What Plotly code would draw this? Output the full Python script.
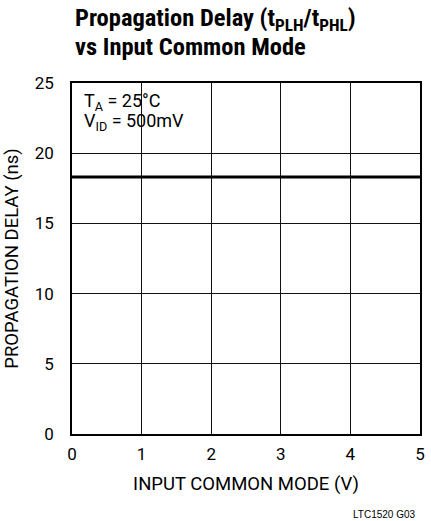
import plotly.graph_objects as go

x_vals = [0, 1, 2, 3, 4, 5]
delay_ns = [18.3, 18.3, 18.3, 18.3, 18.3, 18.3]
x_ticks = [0, 1, 2, 3, 4, 5]
y_ticks = [0, 5, 10, 15, 20, 25]

FONT = "Roboto, Liberation Sans, Arial, sans-serif"
TFONT = "Roboto Condensed, Roboto, Liberation Sans, sans-serif"

fig = go.Figure()
fig.add_trace(go.Scatter(x=x_vals, y=delay_ns, mode="lines",
                         line=dict(color="black", width=3), showlegend=False,
                         hoverinfo="skip"))

fig.update_layout(
    width=431, height=521,
    margin=dict(l=72, r=6, t=83, b=87),
    paper_bgcolor="white", plot_bgcolor="white",
    font=dict(family=FONT, color="black", size=17),
    xaxis=dict(range=[0, 5], tickvals=x_ticks, showgrid=True, gridcolor="#111",
               gridwidth=1, showline=True, linecolor="black", linewidth=1.5,
               mirror=True, ticks="", zeroline=False, ticklabelstandoff=4,
               tickfont=dict(size=17),
               title=dict(text="INPUT COMMON MODE (V)", font=dict(size=18.5), standoff=14)),
    yaxis=dict(range=[0, 25], tickvals=y_ticks, showgrid=True, gridcolor="#111",
               gridwidth=1, showline=True, linecolor="black", linewidth=1.5,
               mirror=True, ticks="", zeroline=False, ticklabelstandoff=13,
               tickfont=dict(size=17),
               title=dict(text="PROPAGATION DELAY (ns)", font=dict(size=18.5), standoff=11)),
)

def py(p):
    return (434 - p) / 351.0

def px(p):
    return (p - 72) / 353.0

fig.add_annotation(xref="paper", yref="paper", x=px(73), y=py(19),
                   xanchor="left", yanchor="middle", align="left", showarrow=False,
                   text="<b>Propagation Delay (t<sub>PLH</sub>/t<sub>PHL</sub>)</b>",
                   font=dict(size=24.5, family=TFONT))
fig.add_annotation(xref="paper", yref="paper", x=px(73), y=py(47),
                   xanchor="left", yanchor="middle", align="left", showarrow=False,
                   text="<b>vs Input Common Mode</b>",
                   font=dict(size=24.5, family=TFONT))
fig.add_annotation(xref="paper", yref="paper", x=px(82), y=py(102),
                   xanchor="left", yanchor="middle", align="left", showarrow=False,
                   text="T<sub>A</sub> = 25°C",
                   font=dict(size=18, family=FONT))
fig.add_annotation(xref="paper", yref="paper", x=px(82), y=py(122),
                   xanchor="left", yanchor="middle", align="left", showarrow=False,
                   text="V<sub>ID</sub> = 500mV",
                   font=dict(size=18, family=FONT))
fig.add_annotation(xref="paper", yref="paper", x=px(423), y=py(514),
                   xanchor="right", yanchor="middle", showarrow=False,
                   text="LTC1520 G03", font=dict(size=10, family="Liberation Sans, Arial, sans-serif"))

fig.write_html("out.html", config={"displayModeBar": False},
               post_script="document.body.style.margin='0';")
